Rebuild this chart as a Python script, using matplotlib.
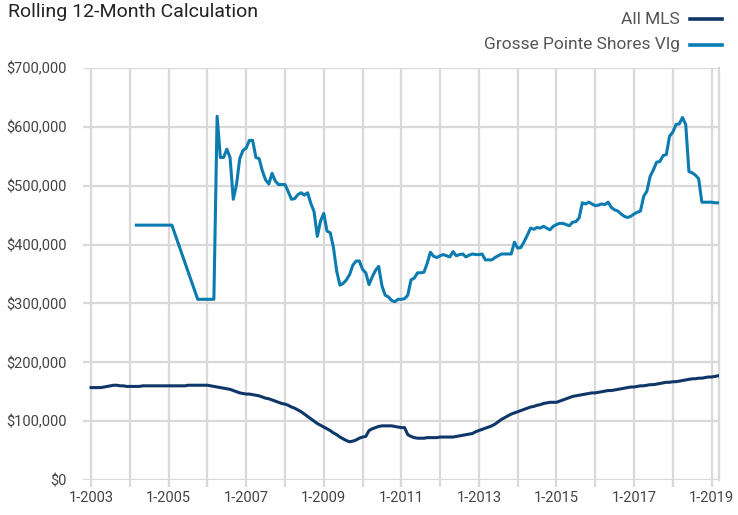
import matplotlib
matplotlib.use("Agg")
import matplotlib.pyplot as plt
from matplotlib.lines import Line2D
from matplotlib.ticker import FuncFormatter
import numpy as np

plt.rcParams['font.family'] = ['Roboto', 'DejaVu Sans']

# ==== データ（月番号: 0 = 1-2003）====
mls_k = [
    157, 157, 157, 157, 158, 159, 160, 161, 161, 160, 160, 159,   # 2003
    159, 159, 159, 159, 160, 160, 160, 160, 160, 160, 160, 160,   # 2004
    160, 160, 160, 160, 160, 160, 161, 161, 161, 161, 161, 161,   # 2005
    161, 160, 159, 158, 157, 156, 155, 154, 152, 150, 148, 147,   # 2006
    146, 146, 145, 144, 143, 141, 139, 138, 136, 134, 132, 130,   # 2007
    129, 127, 124, 122, 119, 116, 112, 108, 104, 100, 96, 93,     # 2008
    90, 87, 84, 80, 77, 73, 70, 67, 65, 66, 68, 71,               # 2009
    73, 74, 84, 87, 89, 91, 92, 92, 92, 92, 91, 90,               # 2010
    89, 89, 77, 74, 72, 71, 71, 71, 72, 72, 72, 72,               # 2011
    73, 73, 73, 73, 73, 74, 75, 76, 77, 78, 79, 82,               # 2012
    84, 86, 88, 90, 92, 95, 99, 103, 106, 109, 112, 114,          # 2013
    116, 118, 120, 122, 124, 125, 127, 128, 130, 131, 132, 132,   # 2014
    132, 134, 136, 138, 140, 142, 143, 144, 145, 146, 147, 148,   # 2015
    148, 149, 150, 151, 152, 152, 153, 154, 155, 156, 157, 158,   # 2016
    158, 159, 160, 160, 161, 162, 162, 163, 164, 165, 166, 166,   # 2017
    167, 167, 168, 169, 170, 171, 172, 172, 173, 173, 174, 175,   # 2018
    175, 176, 177,                                                # 2019
]
mls_month = list(range(len(mls_k)))

gps_month = [14, 25, 33, 38] + list(range(39, 195))
gps_k = [
    433, 433, 307, 307,
    618, 548, 548, 562, 548, 477, 502, 546, 560,                  # 39-47
    564, 577, 577, 548, 546, 525, 510, 503, 521, 508, 502, 502,   # 48-59
    502, 490, 477, 478, 485, 488, 484, 488, 470, 456, 414, 440,   # 60-71
    453, 423, 420, 395, 355, 331, 334, 340, 349, 365, 372, 372,   # 72-83
    358, 352, 332, 345, 356, 363, 330, 314, 311, 305, 303, 307,   # 84-95
    307, 308, 314, 340, 343, 352, 352, 353, 368, 387, 380, 378,   # 96-107
    381, 383, 381, 379, 388, 381, 383, 384, 379, 382, 384, 383,   # 108-119
    383, 384, 374, 374, 374, 378, 381, 384, 384, 384, 384, 404,   # 120-131
    394, 395, 405, 416, 428, 426, 429, 428, 431, 428, 425, 431,   # 132-143
    434, 436, 436, 434, 432, 438, 439, 445, 471, 469, 472, 469,   # 144-155
    466, 467, 469, 468, 472, 463, 459, 457, 452, 448, 446, 448,   # 156-167
    452, 455, 457, 482, 491, 516, 527, 540, 541, 551, 553, 584,   # 168-179
    591, 604, 605, 616, 604, 524, 522, 518, 512, 472, 472, 472,   # 180-191
    472, 471, 471,                                                # 192-194
]

year_ticks = list(range(0, 193, 12))
year_labels = [f"1-{2003 + m // 12}" if (m // 12) % 2 == 0 else "" for m in year_ticks]

MLS_COLOR = "#0e3768"
GPS_COLOR = "#0b7bb0"
GRID_COLOR = "#d9d9d9"
TEXT_COLOR = "#444444"

fig = plt.figure(figsize=(7.38, 5.15), dpi=100)
ax = fig.add_axes([83 / 738, 1 - 480 / 515, (719 - 83) / 738, (480 - 68) / 515])

ax.plot(np.array(gps_month), np.array(gps_k) * 1000, color=GPS_COLOR, lw=2.2,
        solid_joinstyle="round", zorder=3)
ax.plot(np.array(mls_month), np.array(mls_k) * 1000, color=MLS_COLOR, lw=2.2,
        solid_joinstyle="round", zorder=3)

ax.set_xlim(-2.5, 194.3)
ax.set_ylim(0, 700000)
ax.set_yticks(np.arange(0, 700001, 100000))
ax.yaxis.set_major_formatter(FuncFormatter(lambda v, p: f"${v:,.0f}"))
ax.set_xticks(year_ticks)
ax.set_xticklabels(year_labels)

ax.grid(True, color=GRID_COLOR, lw=1.6, zorder=0)
ax.set_axisbelow(True)
for side in ["top", "left", "bottom"]:
    ax.spines[side].set_visible(False)
ax.spines["right"].set_color(GRID_COLOR)
ax.spines["right"].set_linewidth(1.6)

ax.tick_params(axis="x", length=5, width=1.6, color=GRID_COLOR, labelsize=10.5,
               labelcolor=TEXT_COLOR, pad=3)
ax.tick_params(axis="y", length=0, labelsize=10.5, labelcolor=TEXT_COLOR, pad=12)

fig.text(8 / 738, 1 - 12 / 515, "Rolling 12-Month Calculation", fontsize=14,
         color="#222222", ha="left", va="center")

# 凡例（右上、テキスト右寄せ＋線）
for label, color, ypix in [("All MLS", MLS_COLOR, 19), ("Grosse Pointe Shores Vlg", GPS_COLOR, 45)]:
    yf = 1 - ypix / 515
    fig.text(680 / 738, yf, label, fontsize=12.5, color="#555555", ha="right", va="center")
    fig.add_artist(Line2D([690 / 738, 722 / 738], [yf, yf], color=color, lw=2.6,
                          transform=fig.transFigure))

fig.savefig("out.png", dpi=100)
